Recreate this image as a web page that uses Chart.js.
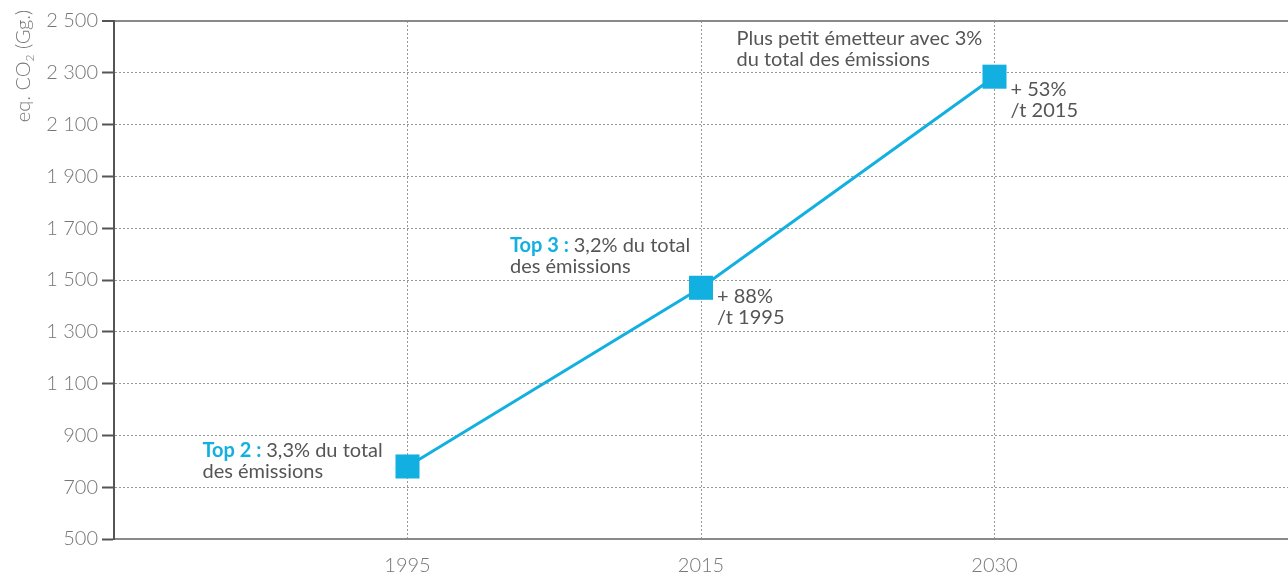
<!DOCTYPE html>
<html>
<head>
<meta charset="utf-8">
<script src="https://cdn.jsdelivr.net/npm/chart.js@4"></script>
<style>
    html, body { margin: 0; padding: 0; background: #fff; overflow: hidden; }
    #wrap { width: 1288px; height: 576px; position: relative; }
    canvas { display: block; }
</style>
</head>
<body>
<div id="wrap"><canvas id="co2Chart"></canvas></div>
<script>
// categories (empty slots at both ends give the margin seen in the picture)
const years = ['', '1995', '2015', '2030', ''];
const emissions = [null, 780, 1470, 2285, null];
const yTicks = [500, 700, 900, 1100, 1300, 1500, 1700, 1900, 2100, 2300, 2500];

// annotations: index of the point, lines, and whether the first word is a blue label
const notes = [
    { at: 1, dx: -205, dy: -9, bold: 'Top 2 : ', lines: ['3,3% du total', 'des émissions'] },
    { at: 2, dx: -191, dy: -36, bold: 'Top 3 : ', lines: ['3,2% du total', 'des émissions'] },
    { at: 2, dx: 16, dy: 15, bold: '', lines: ['+ 88%', '/t 1995'] },
    { at: 3, dx: -258, dy: -32, bold: '', lines: ['Plus petit émetteur avec 3%', 'du total des émissions'] },
    { at: 3, dx: 16, dy: 19, bold: '', lines: ['+ 53%', '/t 2015'] }
];

const BLUE = '#12b0e0';
const TEXT = '#555555';

const fmt = v => String(v).replace(/\B(?=(\d{3})+(?!\d))/g, ' ');

const notesPlugin = {
    id: 'notes',
    afterDatasetsDraw(chart) {
        const { ctx, scales: { x, y } } = chart;
        ctx.save();
        ctx.textBaseline = 'alphabetic';
        ctx.textAlign = 'left';
        notes.forEach(n => {
            const px = x.getPixelForValue(n.at);
            const py = y.getPixelForValue(emissions[n.at]);
            let tx = px + n.dx;
            let ty = py + n.dy;
            n.lines.forEach((line, i) => {
                let lx = tx;
                if (i === 0 && n.bold) {
                    ctx.font = 'bold 20px Lato';
                    ctx.fillStyle = BLUE;
                    ctx.fillText(n.bold, lx, ty);
                    lx += ctx.measureText(n.bold).width;
                }
                ctx.font = '20px Lato';
                ctx.fillStyle = TEXT;
                ctx.fillText(line, lx, ty + i * 21);
            });
        });
        ctx.restore();
    }
};

// rotated y title with a real subscript
const yTitlePlugin = {
    id: 'yTitle',
    afterDraw(chart) {
        const { ctx } = chart;
        ctx.save();
        ctx.translate(30, 66);
        ctx.rotate(-Math.PI / 2);
        ctx.fillStyle = '#777';
        ctx.textBaseline = 'alphabetic';
        const big = '300 20px Lato', small = '300 12px Lato';
        const parts = [['eq. CO', big, 0], ['2', small, 4], [' (Gg.)', big, 0]];
        let total = 0;
        parts.forEach(p => { ctx.font = p[1]; total += ctx.measureText(p[0]).width; });
        let cx = -total / 2;
        parts.forEach(p => {
            ctx.font = p[1];
            ctx.fillText(p[0], cx, p[2]);
            cx += ctx.measureText(p[0]).width;
        });
        ctx.restore();
    }
};

new Chart(document.getElementById('co2Chart'), {
    type: 'line',
    data: {
        labels: years,
        datasets: [{
            data: emissions,
            borderColor: BLUE,
            backgroundColor: BLUE,
            borderWidth: 3,
            pointStyle: 'rect',
            pointRadius: 17,
            pointHoverRadius: 17,
            pointBorderWidth: 0,
            tension: 0
        }]
    },
    options: {
        responsive: true,
        maintainAspectRatio: false,
        animation: false,
        layout: { autoPadding: false, padding: { top: 21, right: 0, bottom: 0, left: 0 } },
        plugins: { legend: { display: false }, tooltip: { enabled: false } },
        scales: {
            x: {
                offset: false,
                grid: {
                    color: c => (c.index >= 1 && c.index <= 3) ? '#999' : 'rgba(0,0,0,0)',
                    lineWidth: 1,
                    drawTicks: true,
                    tickLength: 15,
                    tickColor: 'rgba(0,0,0,0)'
                },
                border: { color: '#8a8a8a', width: 2, dash: [2, 2] },
                ticks: {
                    color: '#777',
                    font: { family: 'Lato', size: 20, weight: '300' },
                    padding: 0,
                    maxRotation: 0,
                    autoSkip: false
                },
                afterFit: s => { s.height = 37; }
            },
            y: {
                min: 500,
                max: 2500,
                afterBuildTicks: s => { s.ticks = yTicks.map(v => ({ value: v })); },
                grid: {
                    color: c => c.tick && c.tick.value === 2500 ? '#8a8a8a' : (c.tick && c.tick.value === 500 ? 'rgba(0,0,0,0)' : '#999'),
                    lineWidth: c => c.tick && c.tick.value === 2500 ? 2 : 1,
                    tickColor: '#555',
                    tickWidth: 2,
                    tickLength: 12,
                    tickBorderDash: []
                },
                border: {
                    color: '#555',
                    width: 2,
                    dash: c => c.tick && c.tick.value === 2500 ? [] : [2, 2]
                },
                ticks: {
                    color: '#777',
                    font: { family: 'Lato', size: 20, weight: '300' },
                    padding: 4,
                    callback: v => fmt(v)
                },
                afterFit: s => { s.width = 114; }
            }
        }
    },
    plugins: [notesPlugin, yTitlePlugin]
});
</script>
</body>
</html>
